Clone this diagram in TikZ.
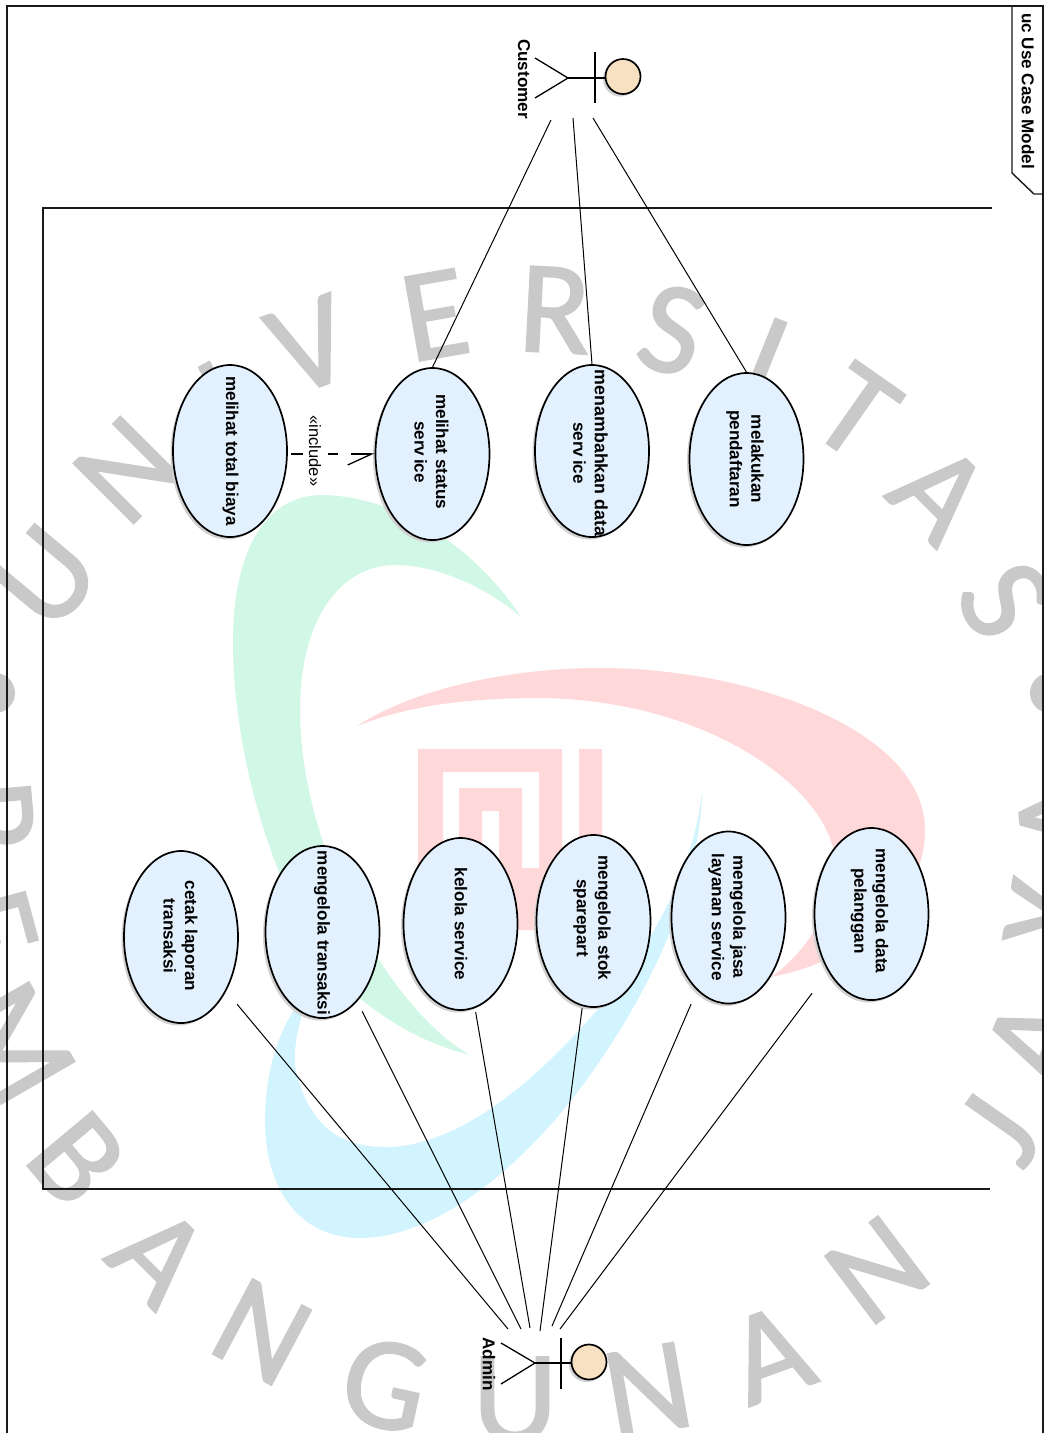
\documentclass[tikz,border=0pt]{standalone}
\usepackage{fontspec}
\setmainfont{Liberation Sans}
\newfontfamily\wmfontfam[FakeBold=1.5]{Carlito}
\usetikzlibrary{shapes.geometric,arrows.meta,shadows}
\definecolor{wmgray}{HTML}{C9C9C9}
\definecolor{logogreen}{HTML}{D1F7E7}
\definecolor{logopink}{HTML}{FFD9DA}
\definecolor{logoblue}{HTML}{D2F4FE}
\definecolor{ucfill}{HTML}{E3F0FD}
\definecolor{headfill}{HTML}{F8E1C2}
\tikzset{
  wm/.style={text=wmgray,inner sep=0pt,font=\wmfontfam\fontsize{132}{132}\selectfont},
  ucase/.style={ellipse,draw=black,line width=1.7pt,fill=ucfill,minimum width=114pt,minimum height=172pt,inner sep=0pt,
    general shadow={shadow xshift=-2.5pt,shadow yshift=-2.5pt,fill=black!18}},
  uclabel/.style={rotate=-90,align=center,inner sep=0pt,font=\fontsize{17.1}{21.5}\bfseries\selectfont},
  actlabel/.style={rotate=-90,inner sep=0pt,font=\fontsize{17.1}{21}\bfseries\selectfont},
  acthead/.style={circle,draw=black,line width=1.7pt,fill=headfill,minimum size=35pt,inner sep=0pt,
    general shadow={shadow xshift=-2.5pt,shadow yshift=-2.5pt,fill=black!18}},
  stick/.style={line width=1.3pt,draw=black},
  assoc/.style={line width=1pt,draw=black},
  frameline/.style={line width=1.4pt,draw=black!90},
}
\begin{document}
\begin{tikzpicture}[x=1pt,y=-1pt]
\useasboundingbox (0,0) rectangle (1044,1433);
\fill[white] (0,0) rectangle (1044,1433);
\begin{scope}
\clip (0,0) rectangle (1044,1433);
% watermark logo
\fill[logogreen] (521,617) .. controls (470,540) and (390,495) .. (320,495) .. controls (255,497) and (233,570) .. (233,640) .. controls (233,780) and (290,930) .. (350,990) .. controls (390,1025) and (430,1045) .. (470,1055) .. controls (390,1010) and (300,850) .. (300,710) .. controls (300,620) and (340,565) .. (395,565) .. controls (440,565) and (490,590) .. (521,617) -- cycle;
\fill[logoblue] (702,792) .. controls (700,870) and (665,970) .. (590,1075) .. controls (530,1160) and (440,1238) .. (360,1238) .. controls (300,1238) and (265,1190) .. (265,1120) .. controls (265,1070) and (280,1020) .. (310,990) .. controls (295,1030) and (292,1060) .. (297,1075) .. controls (310,1125) and (340,1147) .. (385,1147) .. controls (470,1147) and (560,1060) .. (630,970) .. controls (675,900) and (695,850) .. (702,792) -- cycle;
\fill[logopink] (357,726) .. controls (420,685) and (520,668) .. (600,668) .. controls (750,668) and (925,730) .. (925,830) .. controls (925,900) and (860,960) .. (771,977) .. controls (810,950) and (838,900) .. (835,860) .. controls (830,790) and (710,700) .. (540,698) .. controls (470,698) and (410,705) .. (357,726) -- cycle;
\fill[logopink] (418,749) rectangle (443,900) (418,749) rectangle (562,772) (539,749) rectangle (562,930) (499,868) rectangle (562,930) (499,788) rectangle (522,930) (459,788) rectangle (522,811) (459,788) rectangle (482,900) (579,749) rectangle (602,840);
% watermark letters
\node[wm,rotate=50] (w1) at (46,577) {U};
\node[wm,rotate=45] (w2) at (127,470) {N};
\node[wm,rotate=28] (w3) at (224,402) {I};
\node[wm,rotate=20] (w4) at (310,345) {V};
\node[wm,rotate=10] (w5) at (435,315) {E};
\node[wm,rotate=-3] (w6) at (555,310) {R};
\node[wm,rotate=-15] (w7) at (672,330) {S};
\node[wm,rotate=-22] (w8) at (765,360) {I};
\node[wm,rotate=-35] (w9) at (856,412) {T};
\node[wm,rotate=-45] (w10) at (940,493) {A};
\node[wm,rotate=-60] (w11) at (1005,600) {S};
\fill[wmgray] (-5,693) circle (20) (1050,693) circle (20);
\node[wm,rotate=-85] (w12) at (-10,815) {P};
\node[wm,rotate=-75] (w13) at (-10,925) {E};
\node[wm,rotate=-60] (w14) at (15,1043) {M};
\node[wm,rotate=-50] (w15) at (77,1159) {B};
\node[wm,rotate=-45] (w16) at (159,1256) {A};
\node[wm,rotate=-28] (w17) at (262,1332) {N};
\node[wm,rotate=-12] (w18) at (385,1385) {G};
\node[wm,rotate=0] (w19) at (515,1400) {U};
\node[wm,rotate=10] (w20) at (648,1390) {N};
\node[wm,rotate=20] (w21) at (770,1354) {A};
\node[wm,rotate=37] (w22) at (877,1270) {N};
\node[wm,rotate=55] (w23) at (1000,1130) {J};
\node[wm,rotate=68] (w24) at (1035,1040) {A};
\node[wm,rotate=80] (w25) at (1050,915) {Y};
\node[wm,rotate=95] (w26) at (1062,815) {A};
\end{scope}
% frame
\draw[frameline] (7,1433) -- (7,6) -- (1043,6) -- (1043,1433);
\draw[frameline] (1012,6) -- (1012,173) -- (1034,194) -- (1043,194);
\node[actlabel] (title) at (1028,91) {uc Use Case Model};
% boundary
\draw[frameline] (992,208) -- (43,208) -- (43,1189) -- (990,1189);
% use cases
\node[ucase] (daftar) at (746.5,459) {};
\node[uclabel] (daftarT) at (745,459) {melakukan\\pendaftaran};
\node[ucase] (tambah) at (592,451) {};
\node[uclabel] (tambahT) at (590.5,453) {\fontsize{17.8}{21.5}\selectfont menambahkan data\\serv\kern3pt ice};
\node[ucase] (status) at (432.5,454) {};
\node[uclabel] (statusT) at (431.5,452) {melihat status\\serv\kern3pt ice};
\node[ucase] (biaya) at (230,451) {};
\node[uclabel] (biayaT) at (230.5,451) {melihat total biaya};
\node[ucase] (pelanggan) at (871.5,914) {};
\node[uclabel] (pelangganT) at (869.5,911) {mengelola data\\pelanggan};
\node[ucase] (jasa) at (728.5,917.5) {};
\node[uclabel] (jasaT) at (727,917) {mengelola jasa\\layanan service};
\node[ucase] (stok) at (593.5,921) {};
\node[uclabel] (stokT) at (592,918) {mengelola stok\\sparepart};
\node[ucase] (kelola) at (460.5,924) {};
\node[uclabel] (kelolaT) at (461,924) {kelola service};
\node[ucase] (transaksi) at (322.5,932) {};
\node[uclabel] (transaksiT) at (322,933) {mengelola transaksi};
\node[ucase] (cetak) at (181,937) {};
\node[uclabel] (cetakT) at (180.5,936) {cetak laporan\\transaksi};
% actors
\node[acthead] (custhead) at (623,76.5) {};
\coordinate (custcrotch) at (568,78);
\draw[stick] (custhead.west |- custcrotch) -- (custcrotch);
\draw[stick] (595,52) -- (595,103);
\draw[stick] (535,58) -- (custcrotch) -- (535,98);
\node[actlabel] (custname) at (524,79) {Customer};
\node[acthead] (adminhead) at (589,1362) {};
\coordinate (admincrotch) at (535,1363);
\draw[stick] (adminhead.west |- admincrotch) -- (admincrotch);
\draw[stick] (561,1338) -- (561,1389);
\draw[stick] (501,1343) -- (admincrotch) -- (501,1384);
\node[actlabel] (adminname) at (489,1364) {Admin};
% connectors customer
\coordinate (c1) at (551,120);
\coordinate (c2) at (573,118);
\coordinate (c3) at (593,118);
\draw[assoc] (c1) -- (status.north);
\draw[assoc] (c2) -- (tambah.north);
\draw[assoc] (c3) -- (daftar.north);
% connectors admin
\coordinate (a1) at (508,1329);
\coordinate (a2) at (521,1329);
\coordinate (a3) at (530,1328);
\coordinate (a4) at (540,1331);
\coordinate (a5) at (552,1326);
\coordinate (a6) at (560,1329);
\draw[assoc,shorten >=17pt] (a1) -- (cetak);
\draw[assoc,shorten >=11pt] (a2) -- (transaksi);
\draw[assoc,shorten >=4pt] (a3) -- (kelola);
\draw[assoc,shorten >=2pt] (a4) -- (stok);
\draw[assoc,shorten >=15pt] (a5) -- (jasa);
\draw[assoc,shorten >=27pt] (a6) -- (pelanggan);
% include
\draw[line width=1.3pt,dash pattern=on 12pt off 25pt on 10pt off 13pt on 30pt off 1pt,shorten <=3pt,-{Straight Barb[right,length=24pt,width=22pt,line width=1.3pt]}] (biaya.east |- status.west) -- (status.west);
\node[rotate=-90,inner sep=0pt,font=\fontsize{16.5}{20}\selectfont] (inclabel) at (315,451) {«include»};
\end{tikzpicture}
\end{document}
